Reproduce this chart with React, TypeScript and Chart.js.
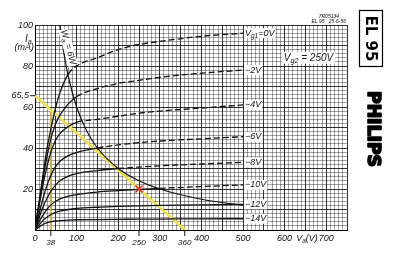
import React, { useEffect, useRef } from 'react';
import { Chart, registerables } from 'chart.js';

Chart.register(...registerables);

// ---- data ----
const anodeVolts = [0, 10, 20, 30, 40, 50, 60, 80, 100, 150, 200, 250, 300, 400, 500];
const gridVoltLabels = ['0V', '−2V', '−4V', '−6V', '−8V', '−10V', '−12V', '−14V'];
const iaG0 = [0, 14, 28, 41, 51, 60, 67, 76, 80, 84, 88, 90.5, 92, 94.5, 96];
const iaG2 = [0, 13, 26, 37, 46, 52, 56, 61.5, 65, 69, 71.5, 73, 74.5, 76.5, 78];
const iaG4 = [0, 12, 23, 32, 39, 44, 47, 50.5, 52.5, 54, 55.5, 57, 58, 59.5, 61];
const iaG6 = [0, 8, 16, 22.5, 27.5, 31, 33.5, 36.3, 37.8, 40, 41.5, 42.6, 43.4, 44.5, 45.5];
const iaG8 = [0, 6, 11.5, 16, 19.5, 22, 24, 26.3, 27.5, 29, 30, 30.7, 31.3, 32.2, 33];
const iaG10 = [0, 4, 7.5, 10.5, 12.5, 14, 15.2, 16.5, 17.3, 18.5, 19.2, 19.8, 20.3, 21.2, 22];
const iaG12 = [0, 2.5, 4.8, 6.5, 7.7, 8.6, 9.2, 10, 10.5, 11.1, 11.5, 11.8, 12, 12.3, 12.5];
const iaG14 = [0, 1.5, 2.8, 3.6, 4.1, 4.4, 4.6, 4.85, 5, 5.1, 5.2, 5.3, 5.35, 5.45, 5.5];
const curveSeries = [iaG0, iaG2, iaG4, iaG6, iaG8, iaG10, iaG12, iaG14];

const powerLimitWatts = 6;
const wattVa = [60, 70, 80, 100, 125, 150, 200, 250, 300, 400, 500];
const wattIa = [100, 85.7, 75, 60, 48, 40, 30, 24, 20, 15, 12];

const loadVa = [0, 360];
const loadIa = [65.5, 0];
const kneeVa = [38, 38];
const kneeIa = [0, 58.6];
const opVa = [250];
const opIa = [20];

const xTickValues = [0, 100, 200, 300, 400, 500, 600, 700];
const yTickValues = [20, 40, 60, 80, 100];
const xExtraTicks = [38, 250, 360];
const yExtraTick = 65.5;

const FONT = "'Liberation Sans', 'DejaVu Sans', sans-serif";

function richWidth(ctx: CanvasRenderingContext2D, parts: [string, boolean][], size: number) {
  let w = 0;
  for (const [t, sub] of parts) {
    ctx.font = `italic ${sub ? size * 0.72 : size}px ${FONT}`;
    w += ctx.measureText(t).width;
  }
  return w;
}
function drawRich(ctx: CanvasRenderingContext2D, parts: [string, boolean][], x: number, y: number, size: number) {
  let cx = x;
  for (const [t, sub] of parts) {
    ctx.font = `italic ${sub ? size * 0.72 : size}px ${FONT}`;
    ctx.fillText(t, cx, sub ? y + size * 0.3 : y);
    cx += ctx.measureText(t).width;
  }
}

const textPlugin = {
  id: 'tubeText',
  afterDatasetsDraw(chart: any) {
    const ctx: CanvasRenderingContext2D = chart.ctx;
    const xs = chart.scales.x;
    const ys = chart.scales.y;
    const area = chart.chartArea;
    ctx.save();
    ctx.fillStyle = '#111';
    ctx.strokeStyle = '#111';
    ctx.textBaseline = 'middle';
    ctx.textAlign = 'left';

    // curve labels
    curveSeries.forEach((s, i) => {
      const y = ys.getPixelForValue(s[s.length - 1]);
      const x = xs.getPixelForValue(500) + 1;
      const parts: [string, boolean][] = i === 0 ? [['V', false], ['g1', true], ['=' + gridVoltLabels[0], false]] : [[gridVoltLabels[i], false]];
      const w = richWidth(ctx, parts, 9);
      ctx.fillStyle = '#fff';
      ctx.fillRect(x, y - 5, w + 2, 10);
      ctx.fillStyle = '#111';
      drawRich(ctx, parts, x + 1, y, 9);
    });

    // Vg2 label
    {
      const parts: [string, boolean][] = [['V', false], ['g2', true], [' = 250V', false]];
      const x = xs.getPixelForValue(598);
      const y = ys.getPixelForValue(84);
      const w = richWidth(ctx, parts, 10);
      ctx.fillStyle = '#fff';
      ctx.fillRect(x - 2, y - 6, w + 4, 12);
      ctx.fillStyle = '#111';
      drawRich(ctx, parts, x, y, 10);
    }

    // Wa = 6W rotated label
    {
      const parts: [string, boolean][] = [['W', false], ['a', true], [' = 6W', false]];
      const x = xs.getPixelForValue(68);
      const y = ys.getPixelForValue(97.5);
      ctx.save();
      ctx.translate(x, y);
      ctx.rotate((74 * Math.PI) / 180);
      const w = richWidth(ctx, parts, 9);
      ctx.fillStyle = '#fff';
      ctx.fillRect(-1, -5, w + 2, 10);
      ctx.fillStyle = '#111';
      drawRich(ctx, parts, 0, 0, 9);
      ctx.restore();
    }

    // y-axis extras
    ctx.textAlign = 'right';
    ctx.font = `italic 9px ${FONT}`;
    const y65 = ys.getPixelForValue(yExtraTick);
    ctx.fillText('65,5', area.left - 6, y65);
    ctx.lineWidth = 1;
    ctx.beginPath();
    ctx.moveTo(area.left - 5, y65);
    ctx.lineTo(area.left, y65);
    ctx.stroke();
    ctx.textAlign = 'left';
    drawRich(ctx, [['I', false], ['a', true]], area.left - 10, ys.getPixelForValue(93), 10);
    ctx.font = `italic 9px ${FONT}`;
    ctx.textAlign = 'right';
    ctx.fillText('(mA)', area.left - 1, ys.getPixelForValue(89));

    // x-axis extras
    ctx.textAlign = 'center';
    ctx.textBaseline = 'top';
    ctx.font = `italic 8px ${FONT}`;
    xExtraTicks.forEach((v) => {
      const x = xs.getPixelForValue(v);
      ctx.beginPath();
      ctx.moveTo(x, area.bottom);
      ctx.lineTo(x, area.bottom + 6);
      ctx.stroke();
      ctx.fillText(String(v), x, area.bottom + 9);
    });
    ctx.textAlign = 'left';
    ctx.textBaseline = 'middle';
    drawRich(ctx, [['V', false], ['a', true], ['(V)', false]], xs.getPixelForValue(628), area.bottom + 8, 9);

    // header
    ctx.font = `italic 5px ${FONT}`;
    ctx.textAlign = 'right';
    ctx.fillText('7R05134', area.right - 8, area.top - 8);
    ctx.fillText('EL 95   25-6-56', area.right - 1, area.top - 3);

    // EL 95 box
    ctx.lineWidth = 1.2;
    ctx.strokeStyle = '#000';
    ctx.strokeRect(359.5, 10.5, 23, 56);
    ctx.save();
    ctx.translate(371, 38.5);
    ctx.rotate(Math.PI / 2);
    ctx.textAlign = 'center';
    ctx.textBaseline = 'middle';
    ctx.fillStyle = '#000';
    ctx.font = `bold 15px 'DejaVu Sans', sans-serif`;
    ctx.fillText('EL 95', 0, 1);
    ctx.restore();

    // PHILIPS
    ctx.save();
    ctx.translate(373, 129);
    ctx.rotate(Math.PI / 2);
    ctx.textAlign = 'center';
    ctx.textBaseline = 'middle';
    ctx.fillStyle = '#000';
    ctx.strokeStyle = '#000';
    ctx.lineJoin = 'round';
    ctx.font = `bold 16px 'DejaVu Sans', sans-serif`;
    const pw = ctx.measureText('PHILIPS').width;
    ctx.scale(76 / pw, 1.05);
    ctx.lineWidth = 1.6;
    ctx.strokeText('PHILIPS', 0, 1);
    ctx.fillText('PHILIPS', 0, 1);
    ctx.restore();

    ctx.restore();
  },
};

export default function App() {
  const ref = useRef<HTMLCanvasElement | null>(null);
  useEffect(() => {
    if (!ref.current) return;
    const dashFn = (c: any) => {
      const a = c.p0.parsed;
      const b = c.p1.parsed;
      const mx = (a.x + b.x) / 2;
      const my = (a.y + b.y) / 2;
      return (mx * my) / 1000 > powerLimitWatts ? [6, 3] : undefined;
    };
    const curveSets = curveSeries.map((s, i) => ({
      label: gridVoltLabels[i],
      data: anodeVolts.map((v, j) => ({ x: v, y: s[j] })),
      borderColor: '#111',
      borderWidth: 1.3,
      pointRadius: 0,
      cubicInterpolationMode: 'monotone' as const,
      segment: { borderDash: dashFn },
      order: 2,
    }));
    const chart = new Chart(ref.current, {
      type: 'line',
      data: {
        datasets: [
          ...curveSets,
          {
            label: 'Wa',
            data: wattVa.map((v, j) => ({ x: v, y: wattIa[j] })),
            borderColor: '#111',
            borderWidth: 1.2,
            pointRadius: 0,
            cubicInterpolationMode: 'monotone',
            order: 2,
          },
          {
            label: 'load',
            data: loadVa.map((v, j) => ({ x: v, y: loadIa[j] })),
            borderColor: '#f0e04a',
            borderWidth: 2.5,
            pointRadius: 0,
            order: 5,
          },
          {
            label: 'knee',
            data: kneeVa.map((v, j) => ({ x: v, y: kneeIa[j] })),
            borderColor: '#d9b24a',
            borderWidth: 1.6,
            pointRadius: 0,
            order: 5,
          },
          {
            label: 'op',
            data: opVa.map((v, j) => ({ x: v, y: opIa[j] })),
            showLine: false,
            pointStyle: 'crossRot',
            pointRadius: 5,
            borderColor: '#e8202a',
            borderWidth: 1.5,
            order: 0,
          },
        ],
      } as any,
      options: {
        responsive: false,
        animation: false,
        parsing: false as any,
        layout: { padding: { top: 25, right: 53, left: 0, bottom: 0 } },
        plugins: { legend: { display: false }, tooltip: { enabled: false } },
        scales: {
          x: {
            type: 'linear',
            min: 0,
            max: 750,
            afterFit: (s: any) => {
              s.height = 37;
            },
            ticks: {
              stepSize: 10,
              autoSkip: false,
              maxRotation: 0,
              padding: 3,
              color: '#111',
              font: { family: FONT, size: 9, style: 'italic' },
              callback: (v: any) => (xTickValues.includes(Math.round(v)) ? String(Math.round(v)) : ''),
            },
            grid: {
              drawTicks: false,
              color: (c: any) => (Math.round(c.tick.value) % 50 === 0 ? 'rgba(0,0,0,0.8)' : 'rgba(0,0,0,0.45)'),
              lineWidth: (c: any) => (Math.round(c.tick.value) % 50 === 0 ? 1 : 0.8),
            },
            border: { color: '#000', width: 1 },
          },
          y: {
            type: 'linear',
            min: 0,
            max: 100,
            afterFit: (s: any) => {
              s.width = 35;
            },
            ticks: {
              stepSize: 2,
              autoSkip: false,
              padding: 2,
              color: '#111',
              font: { family: FONT, size: 9, style: 'italic' },
              callback: (v: any) => (yTickValues.includes(Math.round(v)) ? String(Math.round(v)) : ''),
            },
            grid: {
              drawTicks: false,
              color: (c: any) => (Math.round(c.tick.value) % 10 === 0 ? 'rgba(0,0,0,0.8)' : 'rgba(0,0,0,0.45)'),
              lineWidth: (c: any) => (Math.round(c.tick.value) % 10 === 0 ? 1 : 0.8),
            },
            border: { color: '#000', width: 1 },
          },
        },
      } as any,
      plugins: [textPlugin],
    });
    return () => chart.destroy();
  }, []);
  return (
    <div style={{ position: 'absolute', left: 0, top: 0, width: 400, height: 267, background: '#fff' }}>
      <canvas ref={ref} width={400} height={267} style={{ display: 'block' }} />
    </div>
  );
}
